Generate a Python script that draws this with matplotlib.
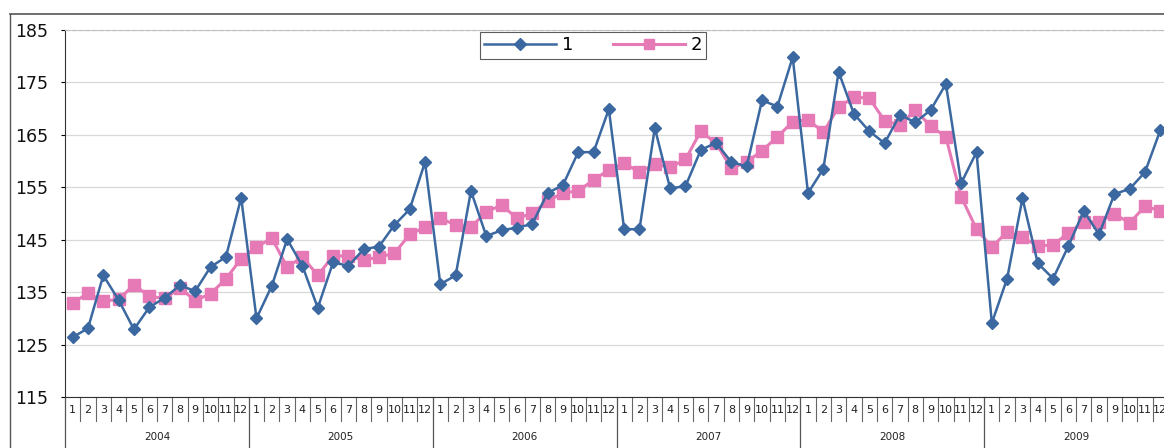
import matplotlib.pyplot as plt
from matplotlib.lines import Line2D
import matplotlib.transforms as mtransforms
import numpy as np

years = ["2004", "2005", "2006", "2007", "2008", "2009"]
months = [str(m) for m in range(1, 13)]

# series 1 (blue diamonds), one row per year
series1 = [
    126.4, 128.1, 138.2, 133.5, 127.9, 132.1, 133.9, 136.3, 135.2, 139.8, 141.7, 153.0,
    130.0, 136.2, 145.1, 140.0, 132.0, 140.7, 140.0, 143.2, 143.7, 147.8, 150.8, 159.8,
    136.5, 138.2, 154.3, 145.7, 146.8, 147.3, 148.0, 153.9, 155.4, 161.7, 161.7, 169.9,
    147.0, 147.0, 166.3, 154.8, 155.2, 162.1, 163.5, 159.8, 159.0, 171.6, 170.4, 179.8,
    153.9, 158.5, 177.0, 169.0, 165.7, 163.4, 168.8, 167.4, 169.7, 174.7, 155.8, 161.7,
    129.1, 137.6, 152.9, 140.5, 137.6, 143.8, 150.5, 146.0, 153.7, 154.7, 157.9, 165.9,
]

# series 2 (pink squares)
series2 = [
    132.9, 134.8, 133.3, 133.6, 136.4, 134.2, 133.8, 135.8, 133.4, 134.7, 137.5, 141.4,
    143.6, 145.3, 139.8, 141.7, 138.2, 141.9, 141.9, 141.1, 141.7, 142.4, 146.0, 147.4,
    149.1, 147.8, 147.4, 150.3, 151.6, 149.1, 150.0, 152.4, 153.9, 154.3, 156.4, 158.3,
    159.6, 157.9, 159.4, 158.8, 160.3, 165.7, 163.4, 158.6, 159.8, 162.0, 164.6, 167.5,
    167.9, 165.5, 170.3, 172.2, 172.0, 167.7, 166.9, 169.7, 166.7, 164.6, 153.2, 147.0,
    143.6, 146.5, 145.5, 143.8, 144.0, 146.3, 148.4, 148.4, 149.9, 148.2, 151.4, 150.5,
]

blue = "#3B68A0"
pink = "#E67AB6"

fig = plt.figure(figsize=(11.64, 4.48), dpi=100)
ax = fig.add_axes([65 / 1164, 1 - 397 / 448, 1103 / 1164, 367 / 448])

x = np.arange(len(series1))
ax.plot(x, series1, color=blue, lw=1.8, marker="D", ms=6.5, mfc=blue, mec=blue, label="1", zorder=3)
ax.plot(x, series2, color=pink, lw=2.2, marker="s", ms=8, mfc=pink, mec=pink, label="2", zorder=2)

ax.set_xlim(-0.5, len(series1) - 0.5)
ax.set_ylim(115, 185)
ax.set_yticks(range(115, 186, 10))
ax.tick_params(axis="y", length=3, labelsize=12.5, pad=9, labelcolor="#111111")
ax.set_xticks([])
ax.grid(axis="y", color="#D8D8D8", lw=0.9)
ax.set_axisbelow(True)

ax.spines["left"].set_color("#333333")
ax.spines["bottom"].set_color("#333333")
ax.spines["top"].set_color("#BBBBBB")
ax.spines["top"].set_linestyle((0, (4, 2)))
ax.spines["right"].set_visible(False)

# two-level category axis: months then years
trans = mtransforms.blended_transform_factory(ax.transData, ax.transAxes)
for i in range(len(series1)):
    ax.text(i, -0.035, months[i % 12], transform=trans, ha="center", va="center",
            fontsize=8, color="#222222", clip_on=False)
    if i % 12 != 0:
        ax.add_line(Line2D([i - 0.5, i - 0.5], [0, -0.065], transform=trans,
                           color="#666666", lw=0.8, clip_on=False))
for k, yr in enumerate(years):
    ax.add_line(Line2D([12 * k - 0.5, 12 * k - 0.5], [0, -0.14], transform=trans,
                       color="#555555", lw=0.9, clip_on=False))
    ax.text(12 * k + 5.5, -0.108, yr, transform=trans, ha="center", va="center",
            fontsize=7.5, color="#222222", clip_on=False)

leg = ax.legend(loc="upper center", bbox_to_anchor=((593 - 65) / 1103, 1.0), ncol=2,
                fontsize=13, frameon=True, fancybox=False, edgecolor="#333333",
                handlelength=4.0, columnspacing=2.2, borderpad=0.25, handletextpad=0.3,
                borderaxespad=0.1, markerscale=0.9)
leg.get_frame().set_linewidth(0.8)

# outer chart border (left and top)
fig.add_artist(Line2D([10 / 1164, 10 / 1164], [0, 1 - 14 / 448], transform=fig.transFigure,
                      color="#555555", lw=1.0))
fig.add_artist(Line2D([10 / 1164, 1], [1 - 14 / 448, 1 - 14 / 448], transform=fig.transFigure,
                      color="#555555", lw=1.2))

fig.savefig("out.png", dpi=100)
